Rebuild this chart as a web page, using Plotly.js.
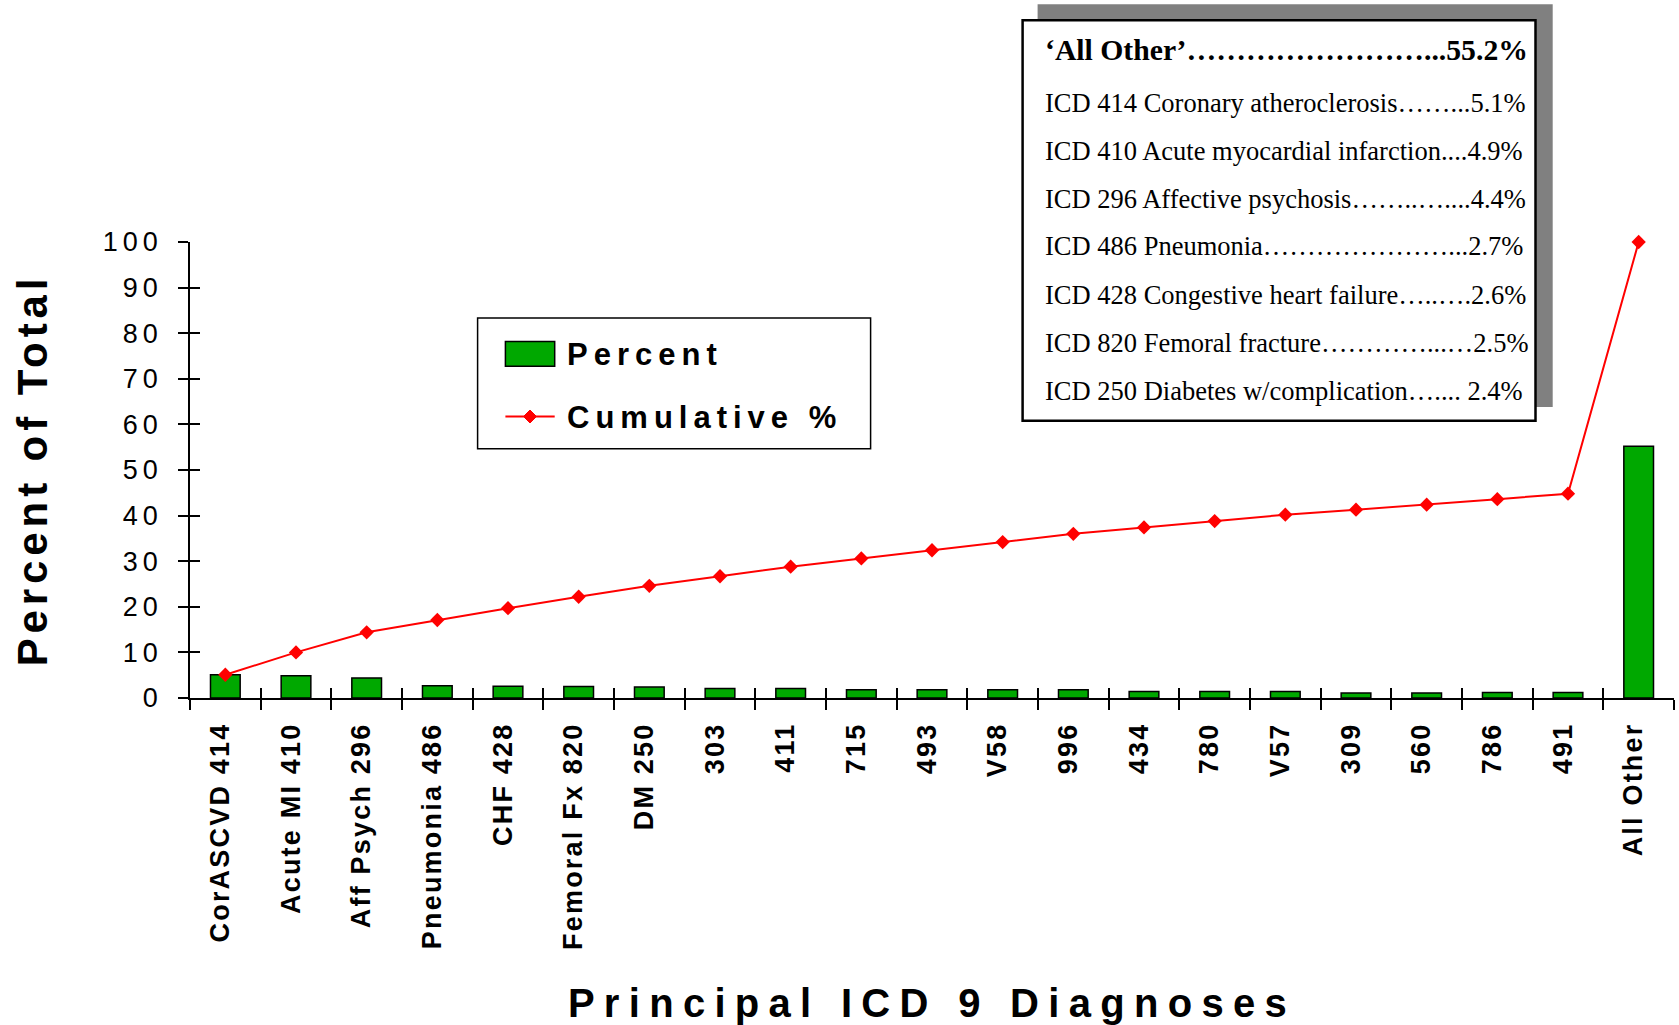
<!DOCTYPE html>
<html>
<head>
<meta charset="utf-8">
<script src="https://cdn.plot.ly/plotly-3.0.1.min.js"></script>
<style>
  html, body { margin: 0; padding: 0; background: #ffffff; }
  #chart { width: 1679px; height: 1025px; }
  .xtick text { letter-spacing: 2.2px; }
  .ytick text { letter-spacing: 5px; }
  .xtitle { letter-spacing: 9.3px; }
  .ytitle { letter-spacing: 4.9px; }
</style>
</head>
<body>
<div id="chart"></div>
<script>
// Principal ICD-9 diagnoses: share of total and running cumulative share
const categories = [
  'CorASCVD 414', 'Acute MI 410', 'Aff Psych 296', 'Pneumonia 486', 'CHF 428',
  'Femoral Fx 820', 'DM 250', '303', '411', '715', '493', 'V58', '996', '434',
  '780', 'V57', '309', '560', '786', '491', 'All Other'
];
const percent = [
  5.1, 4.9, 4.4, 2.7, 2.6, 2.5, 2.4, 2.1, 2.1, 1.8, 1.8,
  1.8, 1.8, 1.4, 1.4, 1.4, 1.1, 1.1, 1.2, 1.2, 55.2
];
const cumulative = [
  5.1, 10.0, 14.4, 17.1, 19.7, 22.2, 24.6, 26.7, 28.8, 30.6, 32.4,
  34.2, 36.0, 37.4, 38.8, 40.2, 41.3, 42.4, 43.6, 44.8, 100.0
];

// Summary box: leader text for each row and the category whose share it quotes
const infoLeaders = [
  '\u2018All Other\u2019\u2026\u2026\u2026\u2026\u2026\u2026\u2026\u2026...',
  'ICD 414 Coronary atheroclerosis\u2026\u2026...',
  'ICD 410 Acute myocardial infarction....',
  'ICD 296 Affective psychosis\u2026\u2026..\u2026....',
  'ICD 486 Pneumonia\u2026\u2026\u2026\u2026\u2026\u2026\u2026...',
  'ICD 428 Congestive heart failure\u2026..\u2026.',
  'ICD 820 Femoral fracture\u2026\u2026\u2026\u2026...\u2026',
  'ICD 250 Diabetes w/complication\u2026.... '
];
const infoSource = [20, 0, 1, 2, 3, 4, 5, 6];

const SANS = '"Liberation Sans", Arial, Helvetica, sans-serif';
const SERIF = '"Liberation Serif", "Times New Roman", serif';
const GREEN = '#00A800';
const RED = '#FF0000';

// page geometry (pixels) and helpers to place decorations in paper units
const FW = 1679, FH = 1025;
const M = { l: 190, r: 5, t: 242, b: 327 };
const PW = FW - M.l - M.r, PH = FH - M.t - M.b;
const X = px => (px - M.l) / PW;
const Y = py => (FH - M.b - py) / PH;

const traces = [
  {
    type: 'bar',
    name: 'Percent',
    x: categories,
    y: percent,
    width: 0.42,
    marker: { color: GREEN, line: { color: '#000000', width: 1.5 } },
    showlegend: false,
    hoverinfo: 'x+y'
  },
  {
    type: 'scatter',
    mode: 'lines+markers',
    name: 'Cumulative %',
    x: categories,
    y: cumulative,
    line: { color: RED, width: 2 },
    marker: { symbol: 'diamond', size: 11, color: RED },
    cliponaxis: false,
    showlegend: false,
    hoverinfo: 'x+y'
  },
  // empty trace that puts the companion tick axes on the page
  {
    type: 'scatter',
    mode: 'markers',
    x: [],
    y: [],
    xaxis: 'x2',
    yaxis: 'y2',
    showlegend: false,
    hoverinfo: 'skip'
  }
];

// legend drawn as a framed key
const swatch = { x0: 505.4, x1: 554.7, y0: 341.6, y1: 366.2 };
const keyLineY = 416.5, keyDiamondX = 530, d = 6.5;
const diamondPath =
  'M' + X(keyDiamondX - d) + ',' + Y(keyLineY) +
  ' L' + X(keyDiamondX) + ',' + Y(keyLineY - d) +
  ' L' + X(keyDiamondX + d) + ',' + Y(keyLineY) +
  ' L' + X(keyDiamondX) + ',' + Y(keyLineY + d) + ' Z';

const shapes = [
  // summary box with its drop shadow
  { type: 'rect', xref: 'paper', yref: 'paper', layer: 'above',
    x0: X(1037.6), x1: X(1552.7), y0: Y(407), y1: Y(4.3),
    fillcolor: '#808080', line: { width: 0 } },
  { type: 'rect', xref: 'paper', yref: 'paper', layer: 'above',
    x0: X(1022.6), x1: X(1535.5), y0: Y(420.8), y1: Y(20.3),
    fillcolor: '#ffffff', line: { color: '#000000', width: 2.5 } },
  // key frame
  { type: 'rect', xref: 'paper', yref: 'paper', layer: 'above',
    x0: X(477.6), x1: X(870.6), y0: Y(448.7), y1: Y(318),
    fillcolor: '#ffffff', line: { color: '#000000', width: 1.5 } },
  { type: 'rect', xref: 'paper', yref: 'paper', layer: 'above',
    x0: X(swatch.x0), x1: X(swatch.x1), y0: Y(swatch.y1), y1: Y(swatch.y0),
    fillcolor: GREEN, line: { color: '#000000', width: 1.5 } },
  { type: 'line', xref: 'paper', yref: 'paper', layer: 'above',
    x0: X(swatch.x0), x1: X(swatch.x1), y0: Y(keyLineY), y1: Y(keyLineY),
    line: { color: RED, width: 2 } },
  { type: 'path', xref: 'paper', yref: 'paper', layer: 'above',
    path: diamondPath, fillcolor: RED, line: { color: RED, width: 1 } }
];

const infoY = [50.3, 102.8, 151, 199.2, 246.3, 294.5, 342.6, 390.8];
const annotations = infoLeaders.map((lead, i) => {
  const line = lead + percent[infoSource[i]].toFixed(1) + '%';
  return {
    xref: 'paper', yref: 'paper',
    x: X(1043), y: Y(infoY[i]),
    xanchor: 'left', yanchor: 'middle',
    showarrow: false,
    text: i === 0 ? '<b>' + line + '</b>' : line,
    font: { family: SERIF, size: i === 0 ? 29.7 : 26.5, color: '#000000' }
  };
});

annotations.push(
  { xref: 'paper', yref: 'paper', x: X(564.5), y: Y(354.4),
    xanchor: 'left', yanchor: 'middle', showarrow: false,
    text: '<span style="letter-spacing:6px">' + traces[0].name + '</span>',
    font: { family: SANS, size: 31, color: '#000000', weight: 'bold' } },
  { xref: 'paper', yref: 'paper', x: X(564.5), y: Y(417.6),
    xanchor: 'left', yanchor: 'middle', showarrow: false,
    text: '<span style="letter-spacing:6px">' + traces[1].name + '</span>',
    font: { family: SANS, size: 31, color: '#000000', weight: 'bold' } }
);

const layout = {
  width: FW,
  height: FH,
  margin: M,
  paper_bgcolor: '#ffffff',
  plot_bgcolor: '#ffffff',
  showlegend: false,
  font: { family: SANS, color: '#000000' },
  xaxis: {
    type: 'category',
    range: [-0.5, 20.5],
    tickson: 'boundaries',
    ticks: 'outside',
    ticklen: 10,
    tickwidth: 1.5,
    tickcolor: '#000000',
    showline: true,
    linecolor: '#000000',
    linewidth: 1.5,
    showgrid: false,
    zeroline: false,
    tickangle: -90,
    ticklabelstandoff: 12,
    ticklabelshift: -5,
    tickfont: { family: SANS, size: 27, color: '#000000', weight: 'bold' },
    title: {
      text: 'Principal ICD 9 Diagnoses',
      standoff: 43,
      font: { family: SANS, size: 40, color: '#000000', weight: 'bold' }
    },
    fixedrange: true
  },
  yaxis: {
    range: [0, 100],
    dtick: 10,
    tick0: 0,
    ticks: 'outside',
    ticklen: 10,
    tickwidth: 1.5,
    tickcolor: '#000000',
    showline: true,
    linecolor: '#000000',
    linewidth: 1.5,
    showgrid: false,
    zeroline: false,
    ticklabelstandoff: 10,
    tickfont: { family: SANS, size: 27, color: '#000000' },
    title: {
      text: 'Percent of Total',
      standoff: 42,
      font: { family: SANS, size: 42, color: '#000000', weight: 'bold' }
    },
    fixedrange: true
  },
  // companion axes give the tick marks their inner half so they cross the axis lines
  xaxis2: {
    overlaying: 'x', anchor: 'y', side: 'bottom',
    range: [-0.5, 20.5], tick0: 0.5, dtick: 1,
    ticks: 'inside', ticklen: 10, tickwidth: 1.5, tickcolor: '#000000',
    showticklabels: false, showline: false, showgrid: false, zeroline: false,
    fixedrange: true
  },
  yaxis2: {
    overlaying: 'y', anchor: 'x', side: 'left',
    range: [0, 100], tick0: 0, dtick: 10,
    ticks: 'inside', ticklen: 10, tickwidth: 1.5, tickcolor: '#000000',
    showticklabels: false, showline: false, showgrid: false, zeroline: false,
    fixedrange: true
  },
  shapes: shapes,
  annotations: annotations
};

Plotly.newPlot('chart', traces, layout, { displayModeBar: false, responsive: false });
</script>
</body>
</html>
